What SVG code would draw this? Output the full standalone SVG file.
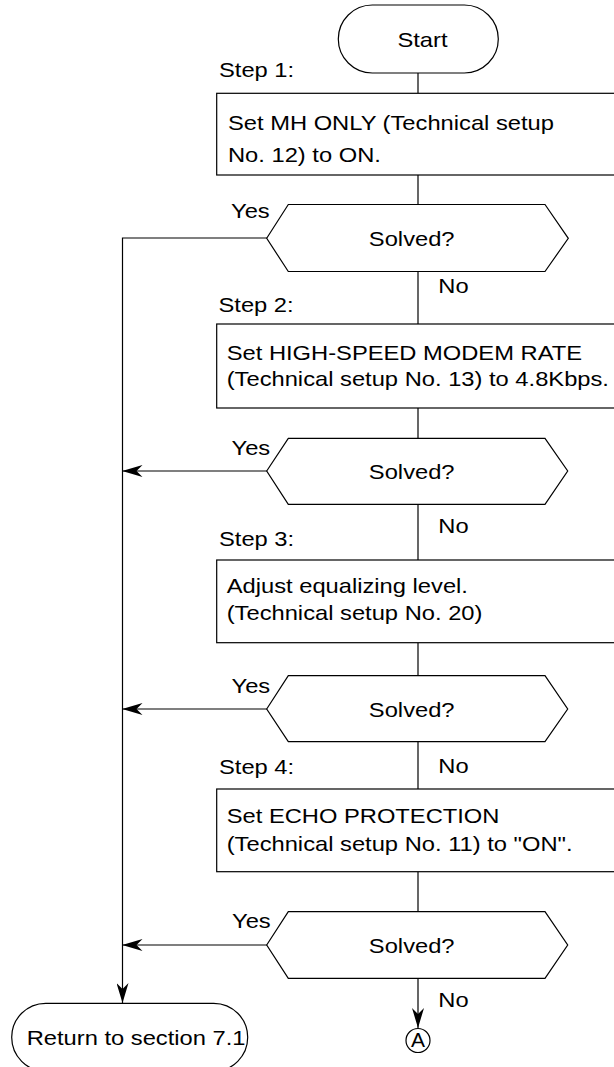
<svg xmlns="http://www.w3.org/2000/svg" width="614" height="1067" viewBox="0 0 614 1067">
<style>
.s{fill:#fff;stroke:#000;stroke-width:1.2}
.c{fill:none;stroke:#000;stroke-width:1.2}
text{font-family:"Liberation Sans",Arial,Helvetica,sans-serif;font-size:21px;fill:#000}
.m{text-anchor:middle}
</style>
<defs>
<marker id="ah" viewBox="0 0 20 12" refX="20" refY="6" markerWidth="20" markerHeight="12" markerUnits="userSpaceOnUse" orient="auto">
<path d="M0,0 L20,6 L0,12 L6,6 Z" fill="#000"/>
</marker>
</defs>
<g id="connectors">
<path class="c" d="M418,73 V93"/>
<path class="c" d="M418,175 V204"/>
<path class="c" d="M418,271 V324"/>
<path class="c" d="M418,408 V438"/>
<path class="c" d="M418,504 V560"/>
<path class="c" d="M418,643 V676"/>
<path class="c" d="M418,742 V789"/>
<path class="c" d="M418,872 V912"/>
<path class="c" d="M418,978 V1028" marker-end="url(#ah)"/>
<path class="c" d="M267,238 H122.5 V1003" marker-end="url(#ah)"/>
<path class="c" d="M267,471 H122.5" marker-end="url(#ah)"/>
<path class="c" d="M267,709 H122.5" marker-end="url(#ah)"/>
<path class="c" d="M267,945 H122.5" marker-end="url(#ah)"/>
<text transform="translate(231 218) scale(1.13 1)">Yes</text>
<text transform="translate(438.3 293) scale(1.13 1)">No</text>
<text transform="translate(231.5 455) scale(1.13 1)">Yes</text>
<text transform="translate(438.3 533) scale(1.13 1)">No</text>
<text transform="translate(231.5 692.7) scale(1.13 1)">Yes</text>
<text transform="translate(438.3 772.7) scale(1.13 1)">No</text>
<text transform="translate(232 927.7) scale(1.13 1)">Yes</text>
<text transform="translate(438.3 1006.7) scale(1.13 1)">No</text>
</g>
<g id="start">
<rect class="s" x="338.3" y="5" width="160" height="68" rx="34" ry="34"/>
<text class="m" transform="translate(422.5 46.7) scale(1.13 1)">Start</text>
</g>
<g id="step1">
<text transform="translate(219 77) scale(1.13 1)">Step 1:</text>
<rect class="s" x="216.7" y="93.3" width="420" height="81.7"/>
<text transform="translate(228 130) scale(1.13 1)">Set MH ONLY (Technical setup</text>
<text transform="translate(228 162) scale(1.13 1)">No. 12) to ON.</text>
</g>
<g id="decision1">
<polygon class="s" points="266.7,238.3 288.3,204.5 545,204.5 568.3,238.3 545,271.5 288.3,271.5"/>
<text class="m" transform="translate(411.7 246) scale(1.13 1)">Solved?</text>
</g>
<g id="step2">
<text transform="translate(218.5 311.7) scale(1.13 1)">Step 2:</text>
<rect class="s" x="216.7" y="324" width="420" height="84"/>
<text transform="translate(226.7 359.5) scale(1.13 1)">Set HIGH-SPEED MODEM RATE</text>
<text transform="translate(226.7 385.5) scale(1.13 1)">(Technical setup No. 13) to 4.8Kbps.</text>
</g>
<g id="decision2">
<polygon class="s" points="266.7,471 288.3,438.3 545,438.3 567.7,471 545,504.3 288.3,504.3"/>
<text class="m" transform="translate(411.7 479.3) scale(1.13 1)">Solved?</text>
</g>
<g id="step3">
<text transform="translate(219 545.7) scale(1.13 1)">Step 3:</text>
<rect class="s" x="216.7" y="560" width="420" height="82.7"/>
<text transform="translate(226.7 592.7) scale(1.13 1)">Adjust equalizing level.</text>
<text transform="translate(226.7 620) scale(1.13 1)">(Technical setup No. 20)</text>
</g>
<g id="decision3">
<polygon class="s" points="266.7,709 288.3,675.7 545,675.7 567.7,709 545,741.7 288.3,741.7"/>
<text class="m" transform="translate(411.7 716.7) scale(1.13 1)">Solved?</text>
</g>
<g id="step4">
<text transform="translate(219 774) scale(1.13 1)">Step 4:</text>
<rect class="s" x="216.7" y="789" width="420" height="82.7"/>
<text transform="translate(226.7 823) scale(1.13 1)">Set ECHO PROTECTION</text>
<text transform="translate(226.7 851) scale(1.13 1)">(Technical setup No. 11) to "ON".</text>
</g>
<g id="decision4">
<polygon class="s" points="266.7,945 288.3,911.7 545,911.7 567.7,945 545,978.3 288.3,978.3"/>
<text class="m" transform="translate(411.7 953.3) scale(1.13 1)">Solved?</text>
</g>
<g id="return">
<rect class="s" x="11.7" y="1003.3" width="236" height="68" rx="34" ry="34"/>
<text transform="translate(26.7 1045) scale(1.13 1)">Return to section 7.1</text>
</g>
<g id="connectorA">
<circle class="s" cx="418" cy="1040.5" r="12"/>
<text class="m" transform="translate(418 1047) scale(1.0 1)">A</text>
</g>
</svg>
